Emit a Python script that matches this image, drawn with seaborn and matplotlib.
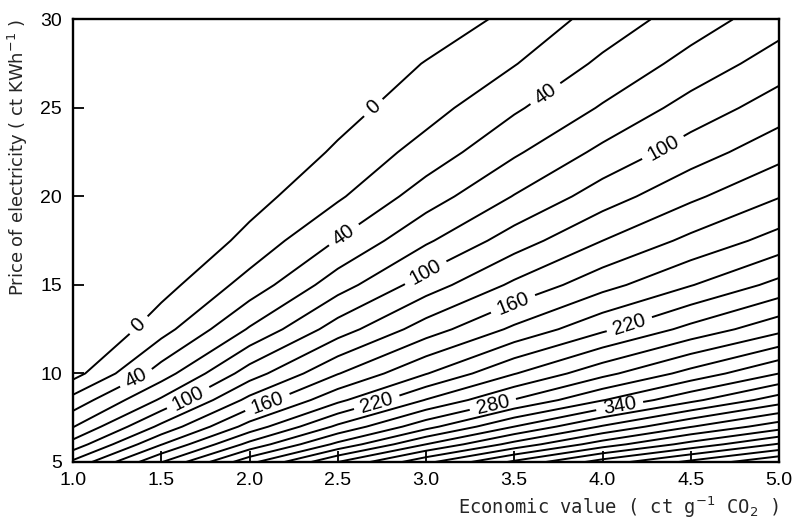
"""
Contour chart: value of the saving vs economic value of CO2 and price of electricity
"""

import numpy as np
import matplotlib
matplotlib.use('Agg')
import matplotlib.pyplot as plt
import seaborn as sns

# grid
econ_value = [1.0, 1.5, 2.0, 2.5, 3.0, 3.5, 4.0, 4.5, 5.0]
elec_price = [5, 6, 7, 8.5, 10, 12.5, 15, 17.5, 20, 22.5, 25, 27.5, 30]

# one row per electricity price (same order as elec_price)
z_p5 = [124, 199, 274, 340, 395, 444, 489, 525, 558]
z_p6 = [88, 159, 226, 285, 340, 387, 430, 467, 502]
z_p7 = [59, 125, 188, 244, 293, 340, 382, 419, 451]
z_p8_5 = [27, 83, 146, 195, 241, 281, 319, 355, 390]
z_p10 = [-8, 50, 110, 159, 199, 239, 274, 307, 340]
z_p12_5 = [-28, 12, 62, 110, 150, 184, 216, 246, 274]
z_p15 = [-41, -8, 28, 71, 110, 144, 173, 199, 226]
z_p17_5 = [-51, -22, 6, 41, 77, 110, 140, 165, 188]
z_p20 = [-58, -33, -8, 17, 50, 81, 110, 136, 159]
z_p22_5 = [-64, -41, -19, 3, 28, 57, 85, 110, 133]
z_p25 = [-68, -48, -28, -8, 12, 37, 62, 88, 110]
z_p27_5 = [-72, -53, -35, -17, 1, 19, 44, 67, 90]
z_p30 = [-75, -58, -41, -25, -12, 5, 28, 50, 71]

contour_levels = list(range(0, 560, 20))
label_levels = [0, 40, 100, 160, 220, 280, 340]
label_pos = [(1.36, 12.85), (2.74, 24.6),
             (1.37, 9.5), (2.53, 17.9), (3.67, 25.9),
             (1.65, 8.67), (2.98, 16.0), (4.34, 22.8),
             (2.10, 8.4), (3.49, 14.0),
             (2.72, 8.4), (4.15, 12.85),
             (3.38, 8.2),
             (4.10, 8.0)]

z_grid = np.array([z_p5, z_p6, z_p7, z_p8_5, z_p10, z_p12_5, z_p15,
                   z_p17_5, z_p20, z_p22_5, z_p25, z_p27_5, z_p30])
plain_levels = [v for v in contour_levels if v not in label_levels]

sns.set_style('ticks')
plt.rcParams['font.family'] = ['Liberation Sans', 'DejaVu Sans']

fig = plt.figure(figsize=(7.92, 5.25), dpi=100)
ax = fig.add_axes([0.0922, 0.12, 0.8914, 0.843])

ax.contour(econ_value, elec_price, z_grid, levels=plain_levels,
           colors='black', linewidths=1.4)
cs = ax.contour(econ_value, elec_price, z_grid, levels=label_levels,
                colors='black', linewidths=1.4)
ax.clabel(cs, manual=label_pos, fmt='%d',
          inline=True, inline_spacing=7, fontsize=14.5)

ax.set_xlim(1, 5)
ax.set_ylim(5, 30)
ax.set_xticks(econ_value)
ax.set_xticklabels([f'{v:.1f}' for v in econ_value])
ax.set_yticks([5, 10, 15, 20, 25, 30])
ax.tick_params(direction='in', length=8, width=1.3, labelsize=14,
               colors='black')
ax.tick_params(axis='x', pad=7)
ax.tick_params(axis='y', pad=8)
for side in ['left', 'right', 'top', 'bottom']:
    ax.spines[side].set_visible(True)
    ax.spines[side].set_linewidth(1.7)
    ax.spines[side].set_color('black')

ax.set_xlabel('Economic value ( ct g$^{-1}$ CO$_2$ )', loc='right',
              fontsize=13.5, family='DejaVu Sans Mono', labelpad=4)
ax.set_ylabel('Price of electricity ( ct KWh$^{-1}$ )', loc='top',
              fontsize=13, family='DejaVu Sans', labelpad=7)

fig.savefig('out.png', dpi=100)
